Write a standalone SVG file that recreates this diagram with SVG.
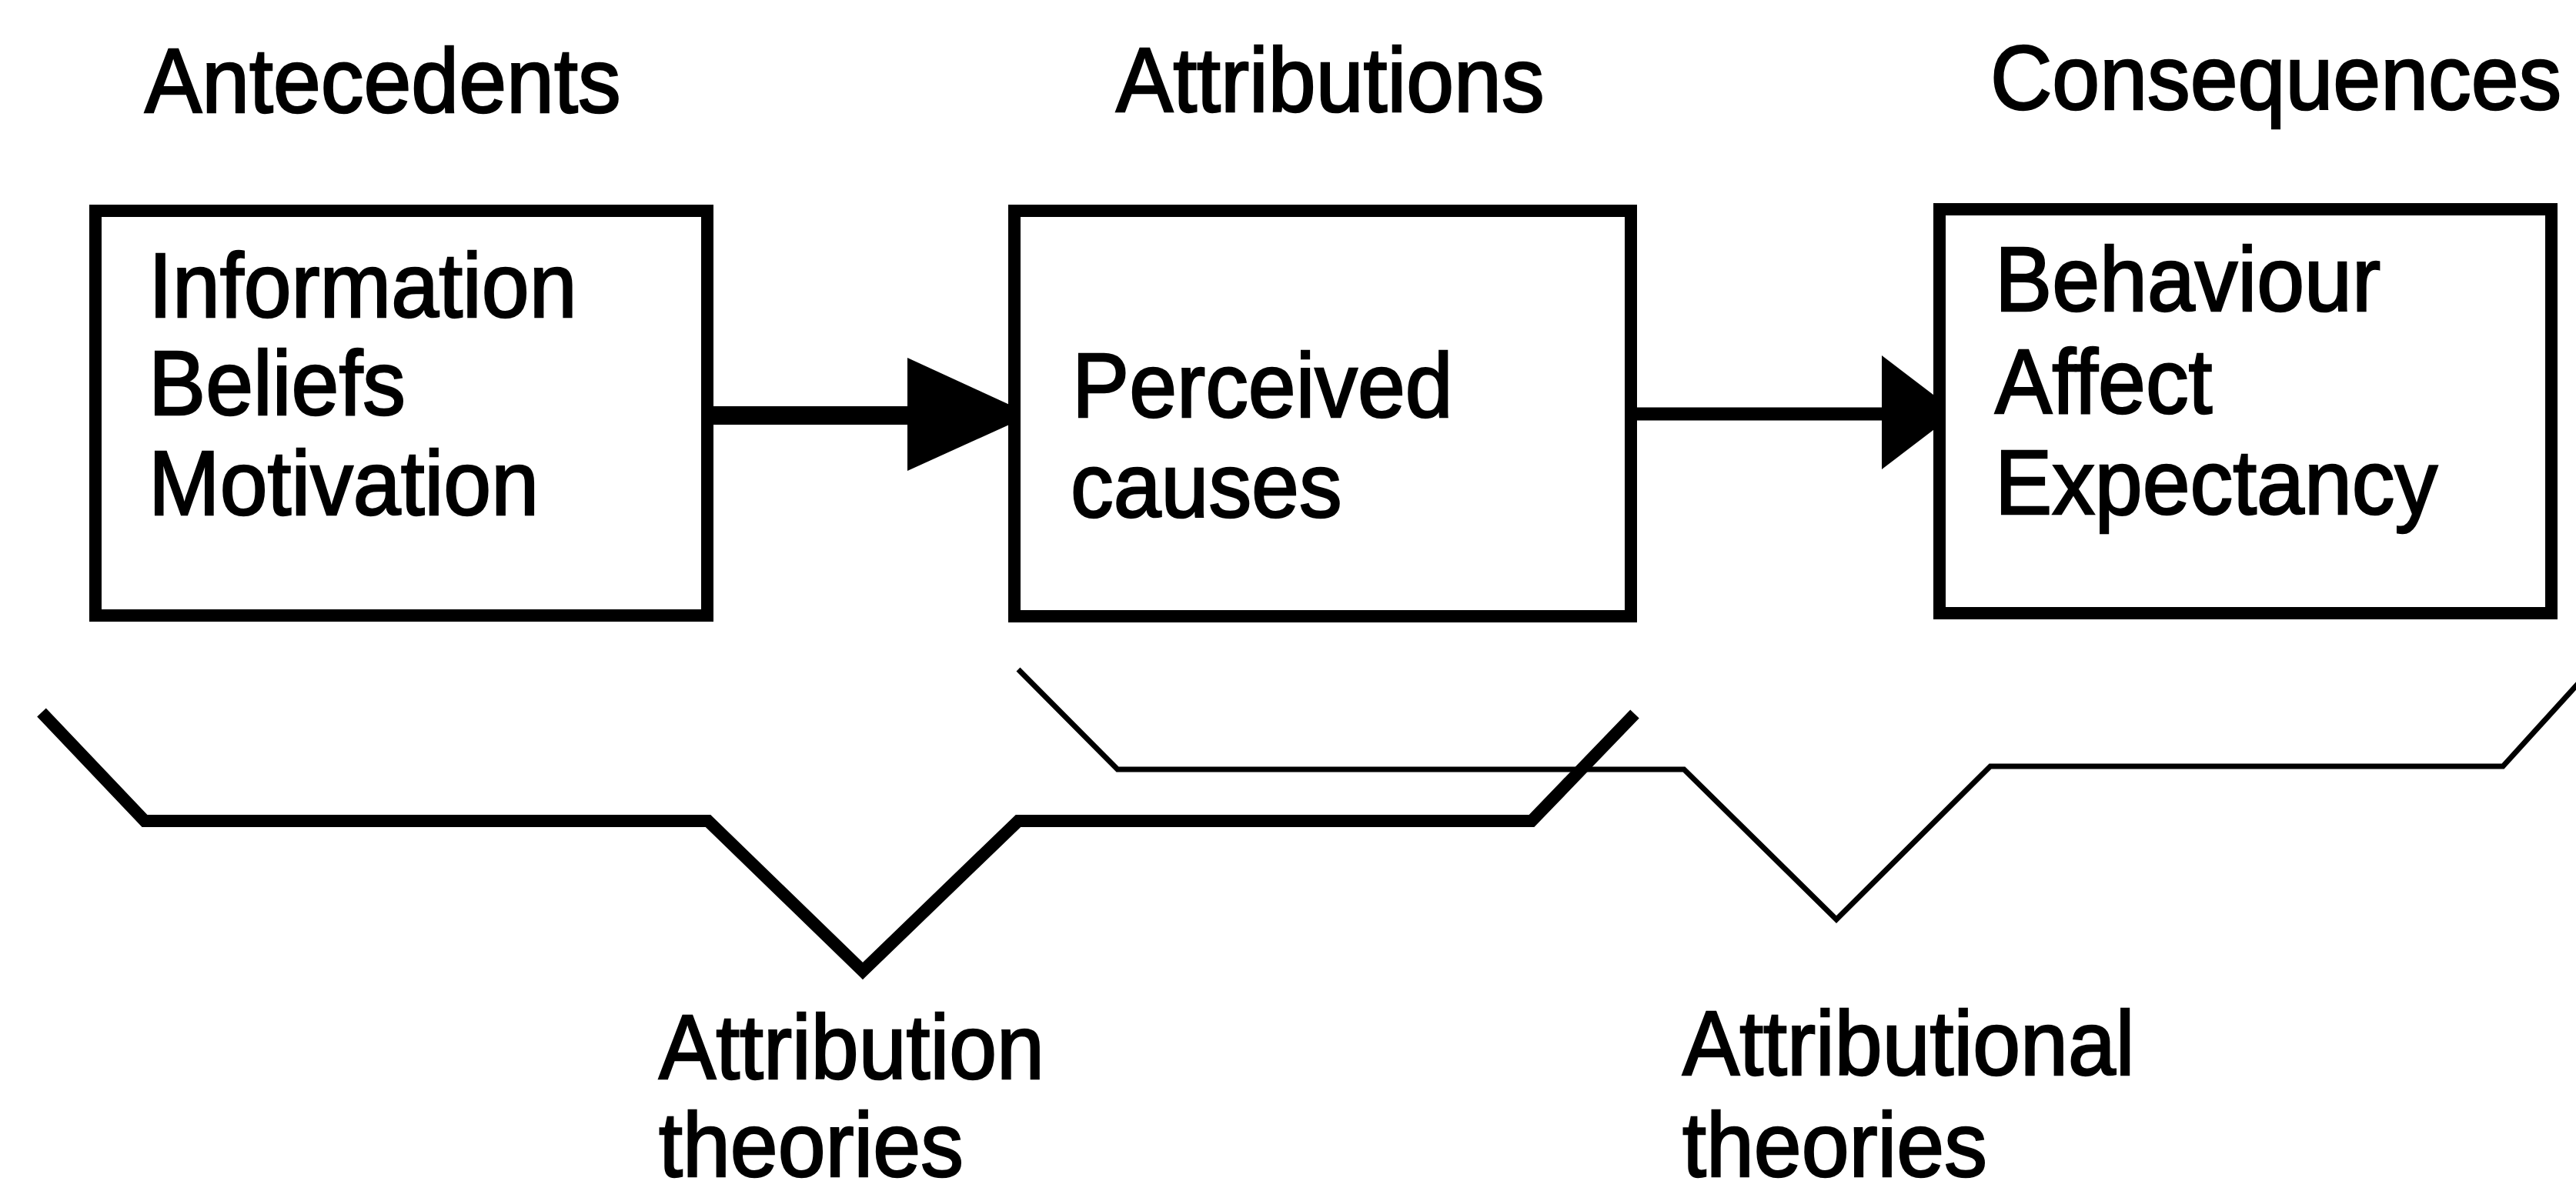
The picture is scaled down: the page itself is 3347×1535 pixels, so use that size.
<svg xmlns="http://www.w3.org/2000/svg" width="3347" height="1535" viewBox="0 0 3347 1535">
<style>
.t{font-family:"Liberation Sans",Arial,Helvetica,sans-serif;font-size:119px;fill:#000;stroke:#000;stroke-width:2.5}
.box{fill:#fff;stroke:#000;stroke-width:16}
.thick{fill:none;stroke:#000;stroke-width:16;stroke-linejoin:miter}
.thin{fill:none;stroke:#000;stroke-width:7;stroke-linejoin:miter}
</style>
<rect width="3347" height="1535" fill="#fff"/>
<g id="headers">
<text class="t" transform="translate(188,146) scale(0.935,1)">Antecedents</text>
<text class="t" transform="translate(1450,145) scale(0.935,1)">Attributions</text>
<text class="t" transform="translate(2586,142) scale(0.935,1)">Consequences</text>
</g>
<g id="connectors">
<line x1="925" y1="540" x2="1185" y2="540" stroke="#000" stroke-width="24"/>
<polygon points="1179,465 1340,539 1179,612" fill="#000"/>
<line x1="2125" y1="538" x2="2450" y2="538" stroke="#000" stroke-width="17"/>
<polygon points="2445,462 2542,536 2445,610" fill="#000"/>
</g>
<g id="antecedents">
<rect class="box" x="124" y="274" width="795" height="526"/>
<text class="t" transform="translate(193,412) scale(0.935,1)">Information</text>
<text class="t" transform="translate(193,539) scale(0.935,1)">Beliefs</text>
<text class="t" transform="translate(193,669) scale(0.935,1)">Motivation</text>
</g>
<g id="attributions">
<rect class="box" x="1318" y="274" width="801" height="527"/>
<text class="t" transform="translate(1393,542) scale(0.935,1)">Perceived</text>
<text class="t" transform="translate(1391,672) scale(0.935,1)">causes</text>
</g>
<g id="consequences">
<rect class="box" x="2520" y="272" width="795" height="525"/>
<text class="t" transform="translate(2592,404) scale(0.935,1)">Behaviour</text>
<text class="t" transform="translate(2592,537) scale(0.935,1)">Affect</text>
<text class="t" transform="translate(2592,668) scale(0.935,1)">Expectancy</text>
</g>
<g id="brackets">
<polyline class="thin" points="1323,870 1452,1000 2188,1000 2386,1195 2586,996 3252,996 3352,886"/>
<polyline class="thick" points="54,926 188,1067 920,1067 1121,1262 1323,1067 1990,1067 2124,928"/>
</g>
<g id="attribution-theories">
<text class="t" transform="translate(856,1402) scale(0.935,1)">Attribution</text>
<text class="t" transform="translate(856,1529) scale(0.935,1)">theories</text>
</g>
<g id="attributional-theories">
<text class="t" transform="translate(2186,1397) scale(0.935,1)">Attributional</text>
<text class="t" transform="translate(2186,1529) scale(0.935,1)">theories</text>
</g>
</svg>
